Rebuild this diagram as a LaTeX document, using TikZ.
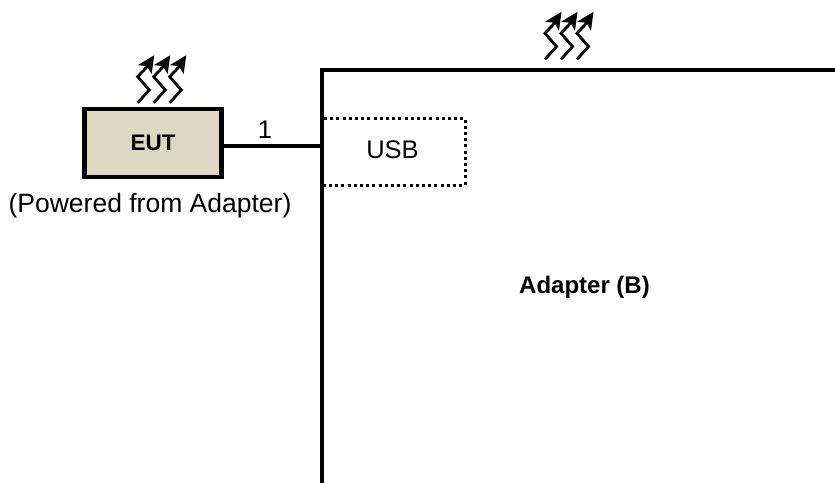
\documentclass[tikz,border=0pt]{standalone}
\usepackage{fontspec}
\setmainfont{Liberation Sans}
\usetikzlibrary{arrows.meta}
\tikzset{
  x=1pt,y=-1pt,
  heat/.pic={\draw[line width=2.8pt,-{Stealth[length=17pt,width=16pt,inset=4pt]}] (0,0) -- (11.6,-12.7) -- (0,-26) -- (8,-34.5) -- (16.5,-47.5);},
  wall/.style={line width=4.3pt,draw=black,line cap=butt,line join=miter},
  dots/.style={line width=3pt,draw=black,dash pattern=on 3pt off 3.2pt},
  lbl/.style={font=\fontsize{25.5}{30}\selectfont,inner sep=0pt,text=black},
  blbl/.style={font=\fontsize{24}{28}\selectfont\bfseries,inner sep=0pt,text=black}
}
\definecolor{eutfill}{RGB}{221,216,193}
\begin{document}
\begin{tikzpicture}
\useasboundingbox (0,0) rectangle (835,483);
\node[draw=black,line width=4.3pt,fill=eutfill,minimum width=137pt,minimum height=68.5pt,inner sep=0pt,anchor=center,font=\fontsize{22.5}{26}\selectfont\bfseries] (eut) at (153,143) {\raisebox{-1pt}{EUT}};
\coordinate (wallbottom) at (322,483);
\coordinate (wallcorner) at (322,70);
\coordinate (wallright) at (835,70);
\coordinate (joint) at (322,146);
\draw[wall] (wallbottom) -- (wallcorner) -- (wallright);
\draw[wall] (eut.east |- joint) -- (joint);
\coordinate (ua) at (324,118);
\coordinate (ub) at (465,118);
\coordinate (uc) at (465,185);
\coordinate (ud) at (324,185);
\draw[dots] (ua) -- (ub) -- (uc) -- (ud);
\node[lbl] (usb) at (392.5,150) {USB};
\node[lbl] (one) at (265,130) {1};
\node[font=\fontsize{26.5}{30}\selectfont,inner sep=0pt] (powered) at (150,206) {(Powered from Adapter)};
\node[blbl] (adapter) at (584.5,287) {Adapter (B)};
\pic at (137.7,102.7) {heat};
\pic at (153.7,102.7) {heat};
\pic at (169.7,102.7) {heat};
\pic at (545,59.3) {heat};
\pic at (561,59.3) {heat};
\pic at (577,59.3) {heat};
\end{tikzpicture}
\end{document}
